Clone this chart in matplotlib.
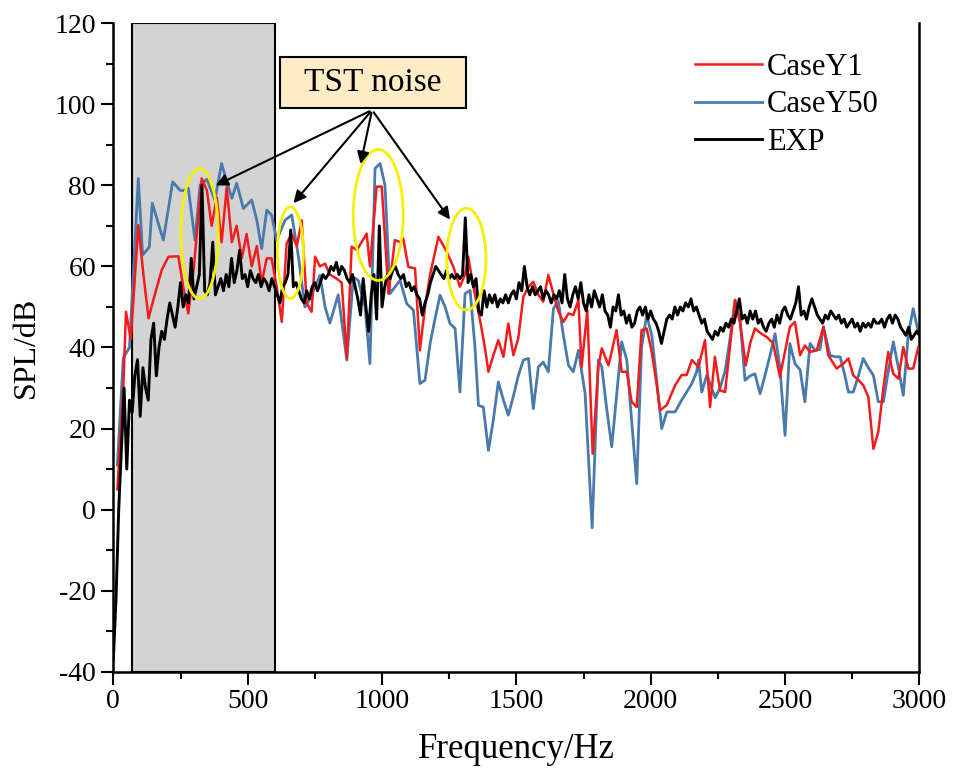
import matplotlib
matplotlib.use("Agg")
import matplotlib.pyplot as plt
from matplotlib.patches import Rectangle, Ellipse
from matplotlib.ticker import MultipleLocator
import numpy as np

plt.rcParams['font.family'] = ['Liberation Serif', 'DejaVu Serif']
plt.rcParams['axes.unicode_minus'] = False

# CaseY1 (red)
y1_f = [15, 37, 47, 65, 93, 112, 131, 150, 180, 205, 242, 260, 279, 300, 329, 348, 366, 385,
        403, 422, 441, 459, 478, 496, 515, 534, 552, 571, 589, 608, 627, 645, 664, 683, 701,
        720, 738, 751, 769, 788, 806, 831, 850, 869, 887, 906, 943, 955, 980, 999, 1024, 1048,
        1067, 1079, 1098, 1123, 1141, 1160, 1179, 1210, 1241, 1265, 1290, 1309, 1321, 1340,
        1365, 1383, 1396, 1414, 1433, 1452, 1470, 1489, 1507, 1526, 1545, 1563, 1582, 1600,
        1619, 1644, 1656, 1675, 1694, 1712, 1731, 1743, 1764, 1784, 1805, 1818, 1843, 1873,
        1892, 1911, 1929, 1948, 1966, 1985, 2004, 2022, 2035, 2060, 2091, 2115, 2134, 2153,
        2178, 2202, 2221, 2239, 2258, 2277, 2295, 2314, 2333, 2354, 2370, 2388, 2410, 2432,
        2456, 2481, 2500, 2518, 2537, 2556, 2574, 2593, 2618, 2643, 2661, 2692, 2717, 2736,
        2754, 2773, 2791, 2810, 2829, 2847, 2866, 2884, 2903, 2922, 2940, 2959, 2977, 2996]
y1_v = [5, 30, 48.8, 42, 70.2, 58, 47.2, 52, 59.1, 62.4, 62.5, 55, 48.4, 60, 81.7, 78.8, 70, 77,
        66, 79.5, 66, 70, 62, 68, 60, 65, 56, 62, 62, 55, 46.3, 65.7, 68, 65, 71.4,
        50.9, 48.8, 62.4, 60, 60.7, 58, 57, 56, 37.3, 64.9, 64, 68.1, 60, 79.7, 79.7, 53.3, 66.5,
        66, 66.9, 59.9, 59.5, 39.3, 50, 58, 67.3, 63.6, 60, 55, 58, 62.4, 55,
        46.7, 40, 34, 38, 41.8, 37.7, 45.9, 38.1, 42.2, 52.5, 55, 56.2, 53, 51.3,
        57.9, 51.7, 49, 46.3, 48.4, 48, 51.7, 35.2, 49.2, 13.8, 35.2, 39.8, 35.6, 44.3,
        34, 34, 26.6, 25.3, 44.3, 44.7, 38.9, 31, 24.5, 25.8, 30.7, 33.2, 33.2, 36.9,
        35.2, 41.8, 25.3, 37.7, 29.4, 29, 40.2, 51.7, 45.9, 35.6, 41, 44.7, 43.5, 42.6,
        41, 32.7, 39, 45.1, 46.3, 38.1, 40.5, 38.9, 39.3, 45.1, 38.1, 34.8, 36, 37.3,
        33.1, 32, 30.7, 27.8, 15, 19.1, 30, 38.9, 33.5, 32.3, 40.1, 34.8, 34.8, 40.1]

# CaseY50 (blue)
y50_f = [15, 37, 60, 93, 109, 134, 145, 186, 221, 248, 260, 279, 304, 323, 348, 378, 403, 422,
         441, 459, 484, 515, 534, 552, 571, 589, 608, 639, 664, 689, 713, 732, 769, 788, 806,
         837, 869, 893, 912, 937, 955, 974, 993, 1011, 1030, 1055, 1067, 1092, 1117, 1141,
         1160, 1179, 1197, 1216, 1235, 1253, 1272, 1290, 1309, 1328, 1346, 1359, 1377, 1396,
         1414, 1433, 1452, 1470, 1489, 1507, 1526, 1545, 1563, 1582, 1600, 1619, 1638, 1656,
         1675, 1694, 1712, 1731, 1756, 1782, 1805, 1818, 1836, 1855, 1873, 1892, 1911, 1929,
         1948, 1966, 1985, 2004, 2022, 2041, 2060, 2091, 2115, 2134, 2153, 2171, 2178, 2190,
         2209, 2240, 2258, 2277, 2295, 2314, 2333, 2351, 2370, 2388, 2407, 2425, 2444, 2463,
         2481, 2500, 2518, 2537, 2556, 2574, 2593, 2612, 2630, 2643, 2667, 2686, 2705, 2723,
         2736, 2754, 2773, 2791, 2810, 2829, 2847, 2866, 2884, 2903, 2922, 2940, 2959, 2977,
         2996]
y50_v = [11, 37.4, 40, 81.7, 62.8, 64.8, 75.6, 66.5, 80.9, 78.8, 78.7, 79.3, 66.5, 80.1, 81.5,
         76.4, 85.4, 80.9, 76.8, 80.5, 74.3, 76.4, 71.4, 64.4, 73.9, 72.7, 66.5, 71.4, 72.7,
         62.4, 50, 52, 57.8, 50, 46, 53, 36.9, 57.4, 56.5, 50, 36, 84.2, 85.4, 80, 53.3, 55.5,
         56.6, 50.8, 49.2, 31.1, 31.9, 41, 47, 52.9, 50, 45.9, 44.7, 29, 53.3, 54.1, 40, 25.7,
         25.3, 14.6, 22, 31.5, 27, 23.3, 28, 33, 36.9, 37.3, 24.9, 35.2, 36.4, 34, 49.6, 51.5,
         43, 35.6, 34, 39.3, 28.6, -4.5, 36.9, 35.2, 25, 15.5, 28, 41.4, 36.9, 22,
         6.4, 40, 48, 43, 32, 20, 24.1, 24.1, 27, 29, 31.1, 34, 36.9, 29,
         33.2, 27.6, 30, 34.2, 42, 51.7, 46.7, 31.9, 33, 33.5, 28.6, 33, 38, 43.4,
         35, 18.3, 41, 36, 34.5, 26.6, 41, 39.3, 39.5, 45.1, 38.1, 37.7, 37.7, 33,
         29, 29, 33, 37.3, 35, 33.1, 26.6, 26.6, 34, 41.4, 35, 28.2, 43.4, 49.6,
         43.8]

# EXP (black), every 10 Hz from 0 to 3000
exp_f = list(range(0, 3001, 10))
exp_v = [-37, -22, 0, 15, 30, 10, 27, 24, 33, 37, 23, 35, 30, 27, 42, 46, 33, 40, 44, 42,
         47, 51, 48, 45, 50, 56, 50, 53, 51, 62, 52, 55, 58, 80, 54, 53, 56, 66, 53, 55,
         57, 54, 58, 55, 62, 56, 59, 64, 57, 58, 55, 59, 57, 56, 58, 55, 57, 56, 54, 57,
         55, 53, 51, 55, 56, 58, 69, 55, 56, 54, 52, 51, 54, 52, 55, 56, 54, 56, 58, 57,
         58, 60, 59, 61, 58, 60, 59, 57, 56, 58, 55, 52, 48, 57, 50, 44, 53, 58, 47, 70,
         50, 55, 58, 57, 59, 60, 58, 57, 58, 55, 56, 54, 55, 53, 52, 48, 51, 53, 56, 58,
         60, 59, 58, 57, 59, 57, 58, 57, 58, 57, 58, 72, 56, 58, 55, 57, 49, 48, 54, 50,
         53, 51, 53, 50, 52, 51, 53, 51, 53, 54, 52, 56, 54, 60, 55, 53, 55, 53, 54, 55,
         52, 54, 53, 51, 53, 52, 54, 51, 58, 52, 50, 53, 55, 52, 56, 51, 49, 53, 50, 54,
         52, 50, 53, 49, 48, 45, 50, 49, 53, 48, 49, 46, 48, 45, 46, 49, 50, 48, 50, 47,
         49, 47, 46, 44, 41, 44, 47, 48, 47, 50, 48, 50, 49, 51, 50, 52, 49, 50, 48, 46,
         47, 44, 43, 42, 44, 43, 45, 44, 46, 45, 47, 46, 49, 52, 47, 48, 46, 49, 47, 49,
         46, 47, 45, 44, 46, 47, 45, 48, 46, 49, 50, 48, 47, 49, 51, 55, 48, 49, 47, 50,
         52, 50, 48, 47, 46, 48, 47, 49, 48, 47, 48, 46, 47, 45, 46, 47, 45, 46, 44, 46,
         45, 46, 45, 47, 46, 46, 47, 45, 47, 48, 46, 48, 47, 45, 44, 43, 45, 42, 43, 44,
         43]

fig = plt.figure(figsize=(9.54, 7.74), dpi=100)
ax = fig.add_axes([0.1188, 0.1322, 0.8449, 0.8377])

# shaded band
ax.add_patch(Rectangle((70, -40), 530, 160, facecolor='#d3d3d3', edgecolor='black', lw=1.5, zorder=0))

ax.plot(y1_f, y1_v, color='#f21c1c', lw=1.8, label='CaseY1', zorder=3)
ax.plot(y50_f, y50_v, color='#4a79ab', lw=2.0, label='CaseY50', zorder=2)
ax.plot(exp_f, exp_v, color='black', lw=2.1, label='EXP', zorder=4)

ax.set_xlim(0, 3000)
ax.set_ylim(-40, 120)
ax.xaxis.set_major_locator(MultipleLocator(500))
ax.xaxis.set_minor_locator(MultipleLocator(250))
ax.yaxis.set_major_locator(MultipleLocator(20))
ax.yaxis.set_minor_locator(MultipleLocator(10))
ax.tick_params(which='major', direction='out', length=9, width=1.5, labelsize=20)
ax.tick_params(which='minor', direction='out', length=5, width=1.5)
ax.spines['top'].set_visible(False)
for s in ['left', 'bottom', 'right']:
    ax.spines[s].set_linewidth(1.8)

ax.set_xlabel('Frequency/Hz', fontsize=25, labelpad=14)
ax.set_ylabel('SPL/dB', fontsize=23, labelpad=10)

# yellow ellipses around the TST peaks
for cx, cy, w, h in [(321, 68.1, 139, 32.1), (659, 63.4, 97, 22.6),
                     (986, 72.7, 186, 32.3), (1314, 61.8, 146, 25.1)]:
    ax.add_patch(Ellipse((cx, cy), w, h, fill=False, edgecolor='#f5f000', lw=2, zorder=5))

# label box and arrows
ax.add_patch(Rectangle((620, 99.1), 692, 12.6, facecolor='#fdecc6', edgecolor='black', lw=1.5, zorder=6))
ax.text(966, 105.4, 'TST noise', ha='center', va='center', fontsize=24, zorder=7)
for tx, ty in [(372, 79.7), (664, 75.1), (918, 84.6), (1259, 71)]:
    ax.annotate('', xy=(tx, ty), xytext=(963, 98.6),
                arrowprops=dict(arrowstyle='-|>', color='black', lw=1.5, mutation_scale=18), zorder=6)

ax.legend(loc='upper left', bbox_to_anchor=(0.703, 0.978), frameon=False, fontsize=22,
          handlelength=2.2, handletextpad=0.15, labelspacing=0.28, borderpad=0)

fig.savefig('out.png', dpi=100)
